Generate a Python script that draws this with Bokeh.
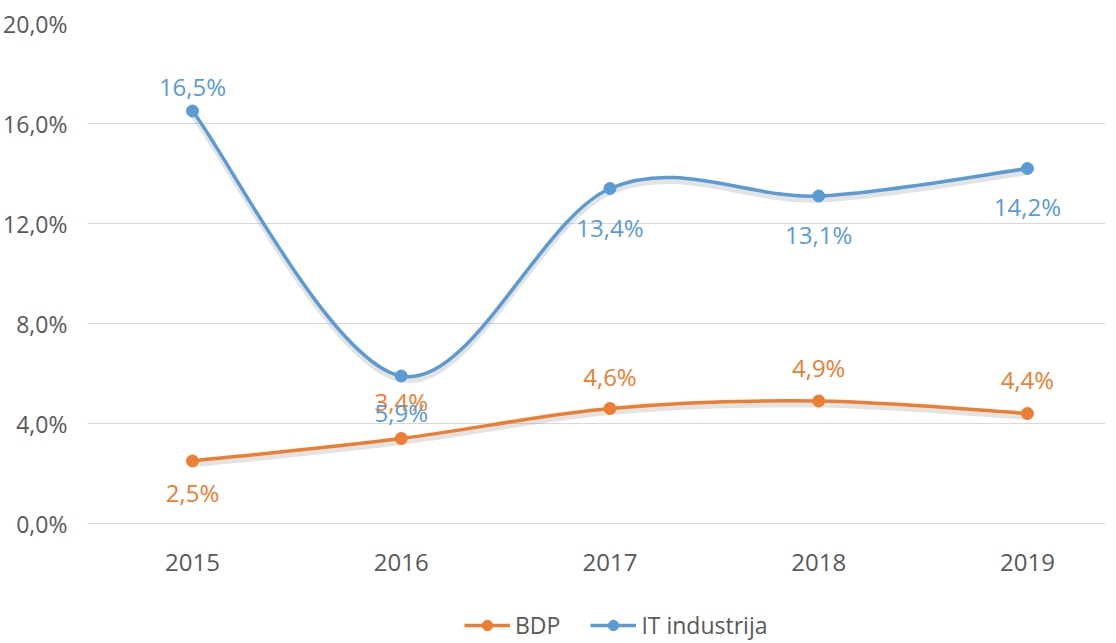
import numpy as np
from bokeh.plotting import figure
from bokeh.models import Range1d, FixedTicker, Legend, LegendItem, ColumnDataSource
from bokeh.core.properties import value
from bokeh.embed import file_html
from bokeh.resources import INLINE

years = ["2015", "2016", "2017", "2018", "2019"]
bdp = [2.5, 3.4, 4.6, 4.9, 4.4]
it_ind = [16.5, 5.9, 13.4, 13.1, 14.2]
bdp_labels = ["2,5%", "3,4%", "4,6%", "4,9%", "4,4%"]
it_labels = ["16,5%", "5,9%", "13,4%", "13,1%", "14,2%"]
y_ticks = [0, 4, 8, 12, 16, 20]
y_tick_labels = ["0,0%", "4,0%", "8,0%", "12,0%", "16,0%", "20,0%"]

# label pixel offsets (screen, positive = down)
bdp_off = [31, -37, -32, -34, -34]
it_off = [-25, 36, 39, 38, 38]

ORANGE = "#ED7D31"
BLUE = "#5B9BD5"
GREY = "#595959"
FONT = "Open Sans"

xs = np.arange(len(years), dtype=float)


def bezier_segments(x, y):
    x = np.asarray(x, float)
    y = np.asarray(y, float)
    n = len(x)
    px = np.concatenate([[x[0]], x, [x[-1]]])
    py = np.concatenate([[y[0]], y, [y[-1]]])
    d = dict(x0=[], y0=[], x1=[], y1=[], cx0=[], cy0=[], cx1=[], cy1=[])
    for i in range(n - 1):
        p0x, p0y = px[i], py[i]
        p1x, p1y = px[i + 1], py[i + 1]
        p2x, p2y = px[i + 2], py[i + 2]
        p3x, p3y = px[i + 3], py[i + 3]
        d["x0"].append(p1x); d["y0"].append(p1y)
        d["x1"].append(p2x); d["y1"].append(p2y)
        d["cx0"].append(p1x + (p2x - p0x) / 6.0)
        d["cy0"].append(p1y + (p2y - p0y) / 6.0)
        d["cx1"].append(p2x - (p3x - p1x) / 6.0)
        d["cy1"].append(p2y - (p3y - p1y) / 6.0)
    return d


# frame extends below 0% to hold the x labels and the legend
p = figure(frame_width=1018, frame_height=618, output_backend="svg", toolbar_location=None,
           x_range=Range1d(-0.503, 4.374), y_range=Range1d(-4.72, 20),
           min_border_left=83, min_border_right=0, min_border_top=23,
           min_border_bottom=0)
p.outline_line_color = None
p.background_fill_color = "white"
p.border_fill_color = "white"

p.xgrid.grid_line_color = None
p.ygrid.grid_line_color = "#D9D9D9"
p.ygrid.grid_line_width = 1
p.ygrid.ticker = FixedTicker(ticks=y_ticks)

p.yaxis.ticker = FixedTicker(ticks=y_ticks)
p.yaxis.major_label_overrides = {t: l for t, l in zip(y_ticks, y_tick_labels)}
p.xaxis.ticker = FixedTicker(ticks=list(xs))
p.xaxis.major_label_overrides = {float(i): y for i, y in enumerate(years)}
p.xaxis.major_label_overrides.update({int(i): y for i, y in enumerate(years)})
p.xaxis.fixed_location = 0
for ax in (p.xaxis, p.yaxis):
    ax.axis_line_color = None
    ax.major_tick_line_color = None
    ax.minor_tick_line_color = None
    ax.major_label_text_color = GREY
    ax.major_label_text_font = FONT
p.yaxis.major_label_text_font_size = "23px"
p.yaxis.major_label_standoff = 14
p.xaxis.major_label_text_font_size = "24px"
p.xaxis.major_label_standoff = 24

items = []
for vals, labels, offs, color, name in [
    (bdp, bdp_labels, bdp_off, ORANGE, "BDP"),
    (it_ind, it_labels, it_off, BLUE, "IT industrija"),
]:
    seg = bezier_segments(xs, vals)
    shadow = dict(seg)
    for k in ("y0", "y1", "cy0", "cy1"):
        shadow[k] = [v - 0.14 for v in seg[k]]
    p.bezier(source=ColumnDataSource(shadow), x0="x0", y0="y0", x1="x1", y1="y1",
             cx0="cx0", cy0="cy0", cx1="cx1", cy1="cy1",
             line_color="#808080", line_alpha=0.22, line_width=6)
    bz = p.bezier(source=ColumnDataSource(seg), x0="x0", y0="y0", x1="x1", y1="y1",
                  cx0="cx0", cy0="cy0", cx1="cx1", cy1="cy1",
                  line_color=color, line_width=3.5)
    sc = p.scatter(xs, vals, size=12, marker="circle", fill_color=color, line_color=color)
    src = ColumnDataSource(dict(x=xs, y=vals, t=labels, o=offs))
    p.text(x="x", y="y", text="t", y_offset="o", source=src,
           text_align="center", text_baseline="middle",
           text_color=color, text_font=value(FONT), text_font_size="24px")
    items.append(LegendItem(label=name, renderers=[bz, sc]))

legend = Legend(items=items, orientation="horizontal", location=(377, 0),
                glyph_width=46, glyph_height=26, label_height=26,
                label_standoff=5, spacing=30,
                padding=0, margin=0, border_line_color=None, background_fill_alpha=0,
                label_text_font=FONT, label_text_font_size="23px",
                label_text_color=GREY)
p.add_layout(legend, "center")

open("out.html", "w").write(file_html(p, INLINE))
